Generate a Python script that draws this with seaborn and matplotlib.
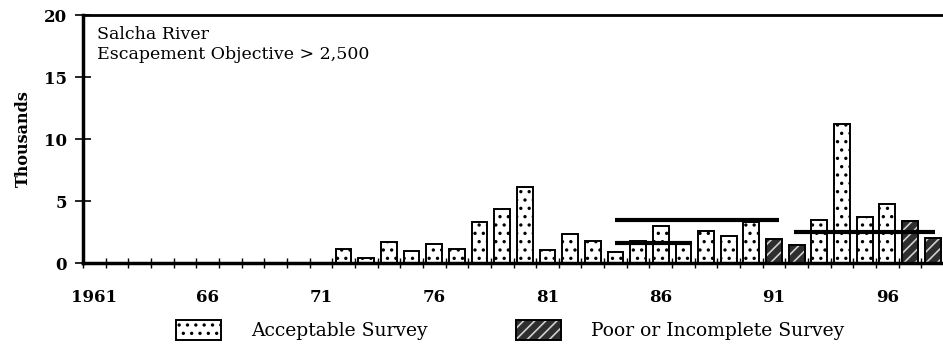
import matplotlib
matplotlib.use("Agg")
import matplotlib.pyplot as plt
from matplotlib.patches import Patch, Rectangle
import numpy as np
import pandas as pd
import seaborn as sns

# Salcha River escapement counts (thousands), 1961-1998
years = list(range(1961, 1999))
counts = [0, 0, 0, 0, 0, 0, 0, 0, 0, 0, 0,
          1.1, 0.4, 1.7, 1.0, 1.5, 1.1, 3.3, 4.35, 6.1, 1.05,
          2.3, 1.8, 0.9, 1.75, 3.0, 1.6, 2.6, 2.2, 3.3, 1.9,
          1.45, 3.5, 11.2, 3.7, 4.75, 3.4, 2.0]
poor_years = [1991, 1992, 1997, 1998]
quality = ["Poor or Incomplete Survey" if y in poor_years else "Acceptable Survey"
           for y in years]

# reference levels drawn across spans of years (start year, end year, thousands)
ref_start = [1984.0, 1984.0, 1991.9]
ref_end = [1991.2, 1987.4, 1998.1]
ref_level = [3.5, 1.6, 2.5]

tick_years = [1961, 1966, 1971, 1976, 1981, 1986, 1991, 1996]
tick_labels = ["1961", "66", "71", "76", "81", "86", "91", "96"]
y_ticks = [0, 5, 10, 15, 20]

df = pd.DataFrame({"year": [str(y) for y in years], "count": counts, "quality": quality})

sns.set_style("white")
plt.rcParams["font.family"] = ["DejaVu Serif"]
plt.rcParams["hatch.linewidth"] = 1.2
plt.rcParams["text.color"] = "black"
plt.rcParams["axes.labelcolor"] = "black"
plt.rcParams["xtick.color"] = "black"
plt.rcParams["ytick.color"] = "black"

fig = plt.figure(figsize=(9.43, 3.48), dpi=100)
W, H = 943, 348
ax = fig.add_axes([83 / W, (H - 263) / H, 861 / W, (263 - 15) / H])

hue_order = ["Acceptable Survey", "Poor or Incomplete Survey"]
sns.barplot(data=df, x="year", y="count", hue="quality", hue_order=hue_order,
            dodge=False, width=0.7, ax=ax, legend=False, order=[str(y) for y in years])

for p in ax.containers[0]:
    p.set_facecolor("white")
    p.set_edgecolor("black")
    p.set_linewidth(1.4)
    p.set_hatch("..")
for p in ax.containers[1]:
    # dark fill with light diagonal strokes, then a black outline on top
    p.set_facecolor("#2e2e2e")
    p.set_edgecolor("#d0d0d0")
    p.set_linewidth(0)
    p.set_hatch("///")
    ax.add_patch(Rectangle(p.get_xy(), p.get_width(), p.get_height(),
                           fill=False, edgecolor="black", lw=1.4, zorder=p.get_zorder() + 0.1))

# reference level lines
for s, e, v in zip(ref_start, ref_end, ref_level):
    ax.hlines(v, s - 1961, e - 1961, color="black", lw=3, zorder=5)

ax.set_xlim(-0.5, len(years) - 0.5)
ax.set_ylim(0, 20)
ax.set_yticks(y_ticks)
ax.set_yticklabels([str(t) for t in y_ticks], fontsize=12, fontweight="bold")
ax.set_xticks([y - 1961 for y in tick_years])
ax.set_xticklabels(tick_labels, fontsize=12, fontweight="bold")
ax.set_xticks(np.arange(len(years) + 1) - 0.5, minor=True)
ax.tick_params(bottom=True, left=True, which="both")
ax.tick_params(axis="x", which="major", length=0, pad=19)
ax.tick_params(axis="x", which="minor", length=7, width=1, direction="inout", color="black")
ax.tick_params(axis="y", which="major", length=11, width=1.2, direction="inout", pad=6,
               color="black")
ax.set_xlabel("")
ax.set_ylabel("Thousands", fontsize=11.5, fontweight="bold", labelpad=9)

for side in ["left", "bottom"]:
    ax.spines[side].set_linewidth(2.5)
    ax.spines[side].set_color("black")
ax.spines["top"].set_linewidth(2)
ax.spines["top"].set_color("black")
ax.spines["right"].set_visible(False)

ax.text(0.016, 0.955, "Salcha River\nEscapement Objective > 2,500",
        transform=ax.transAxes, va="top", ha="left", fontsize=12.5, linespacing=1.25)

handles = [Patch(facecolor="white", edgecolor="black", hatch="..", lw=1.4),
           (Patch(facecolor="#2e2e2e", edgecolor="#d0d0d0", hatch="///", lw=0),
            Patch(fill=False, edgecolor="black", lw=1.4))]
fig.legend(handles, hue_order, loc="center", bbox_to_anchor=(510 / W, 1 - 330 / H),
           ncol=2, frameon=False, fontsize=13.5, handlelength=2.4, handleheight=1.28,
           handletextpad=1.6, columnspacing=4.7)

fig.savefig("out.png", dpi=100)
